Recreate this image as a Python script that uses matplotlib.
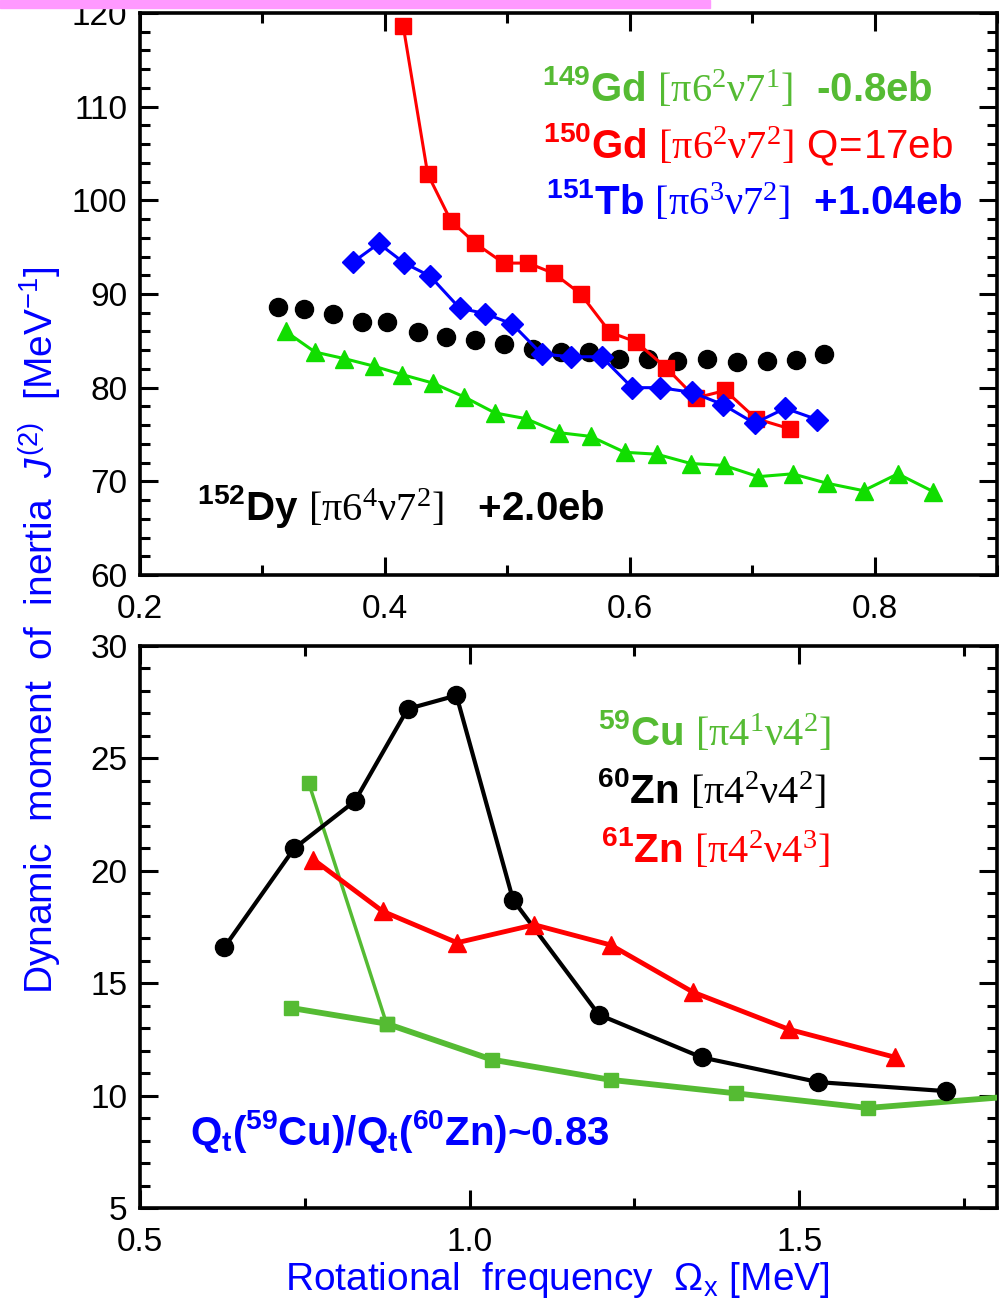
import numpy as np
import matplotlib
matplotlib.use('Agg')
import matplotlib.pyplot as plt
from matplotlib.patches import Rectangle
from matplotlib.ticker import MultipleLocator, FormatStrFormatter

plt.rcParams['font.family'] = ['Liberation Sans', 'DejaVu Sans']
plt.rcParams['mathtext.fontset'] = 'custom'
plt.rcParams['mathtext.rm'] = 'Liberation Serif'
plt.rcParams['mathtext.it'] = 'Liberation Sans:italic'
plt.rcParams['mathtext.bf'] = 'Liberation Sans:bold'
plt.rcParams['mathtext.sf'] = 'Liberation Sans'

# --- upper panel: A~150 superdeformed bands
gd150_x = [0.415, 0.435, 0.454, 0.474, 0.497, 0.517, 0.538, 0.560, 0.584, 0.605,
           0.630, 0.654, 0.678, 0.703, 0.731]
gd150_y = [118.6, 102.8, 97.8, 95.4, 93.3, 93.3, 92.2, 90.0, 85.9, 84.9,
           82.1, 78.9, 79.7, 76.7, 75.6]

tb151_x = [0.374, 0.395, 0.416, 0.437, 0.461, 0.482, 0.504, 0.528, 0.552, 0.577,
           0.602, 0.625, 0.651, 0.676, 0.702, 0.727, 0.753]
tb151_y = [93.4, 95.4, 93.3, 91.9, 88.5, 87.9, 86.8, 83.6, 83.3, 83.3,
           80.0, 80.0, 79.5, 78.2, 76.2, 77.8, 76.6]

dy152_x = [0.313, 0.334, 0.358, 0.381, 0.402, 0.427, 0.450, 0.474, 0.497, 0.521,
           0.544, 0.567, 0.591, 0.615, 0.639, 0.663, 0.688, 0.712, 0.736, 0.759]
dy152_y = [88.6, 88.4, 87.9, 87.0, 87.0, 85.9, 85.4, 85.1, 84.7, 84.1,
           83.8, 83.8, 83.1, 83.1, 82.9, 83.1, 82.7, 82.9, 83.0, 83.6]

gd149_x = [0.319, 0.343, 0.367, 0.391, 0.414, 0.439, 0.465, 0.490, 0.515, 0.542,
           0.568, 0.596, 0.622, 0.650, 0.677, 0.705, 0.733, 0.761, 0.791, 0.819, 0.848]
gd149_y = [86.0, 83.8, 83.1, 82.3, 81.4, 80.5, 79.0, 77.3, 76.7, 75.2,
           74.8, 73.1, 72.9, 71.9, 71.7, 70.5, 70.8, 69.8, 69.0, 70.8, 68.9]

# --- lower panel: A~60 bands
zn60_x = [0.628, 0.734, 0.826, 0.906, 0.980, 1.066, 1.196, 1.352, 1.529, 1.722]
zn60_y = [16.6, 21.0, 23.1, 27.2, 27.8, 18.7, 13.6, 11.7, 10.6, 10.2]

zn61_x = [0.763, 0.868, 0.981, 1.098, 1.214, 1.339, 1.484, 1.646]
zn61_y = [20.5, 18.2, 16.8, 17.6, 16.7, 14.6, 12.95, 11.7]

cu59a_x = [0.756, 0.874]
cu59a_y = [23.9, 13.2]
cu59b_x = [0.729, 0.874, 1.034, 1.214, 1.404, 1.604, 1.86]
cu59b_y = [13.9, 13.2, 11.6, 10.7, 10.1, 9.45, 10.05]

green_txt = '#55BB33'
green_top = '#11DD00'

fig = plt.figure(figsize=(10.04, 13.04), dpi=100)
ax1 = fig.add_axes([140/1004, 1-575/1304, 857/1004, 562/1304])
ax2 = fig.add_axes([140/1004, 1-1208/1304, 857/1004, 562/1304])

ax1.plot(gd149_x, gd149_y, '-^', color=green_top, lw=2.2, ms=12.5, zorder=3)
ax1.plot(dy152_x, dy152_y, 'o', color='black', ms=13, zorder=3)
ax1.plot(gd150_x, gd150_y, '-s', color='red', lw=2.2, ms=11, zorder=4)
ax1.plot(tb151_x, tb151_y, '-D', color='blue', lw=2.2, ms=11, zorder=5)

ax2.plot(cu59b_x, cu59b_y, '-s', color=green_txt, lw=4.2, ms=10, zorder=3)
ax2.plot(cu59a_x, cu59a_y, '-s', color=green_txt, lw=2.5, ms=10, zorder=3)
ax2.plot(zn60_x, zn60_y, '-o', color='black', lw=3, ms=13, zorder=4)
ax2.plot(zn61_x, zn61_y, '-^', color='red', lw=3.5, ms=13.5, zorder=4)

ax1.set_xlim(0.2, 0.9)
ax1.set_ylim(60, 120)
ax1.xaxis.set_major_locator(MultipleLocator(0.2))
ax1.xaxis.set_minor_locator(MultipleLocator(0.1))
ax1.yaxis.set_major_locator(MultipleLocator(10))
ax1.yaxis.set_minor_locator(MultipleLocator(2))
ax1.xaxis.set_major_formatter(FormatStrFormatter('%.1f'))

ax2.set_xlim(0.5, 1.8)
ax2.set_ylim(5, 30)
ax2.xaxis.set_major_locator(MultipleLocator(0.5))
ax2.xaxis.set_minor_locator(MultipleLocator(0.25))
ax2.yaxis.set_major_locator(MultipleLocator(5))
ax2.yaxis.set_minor_locator(MultipleLocator(1))
ax2.xaxis.set_major_formatter(FormatStrFormatter('%.1f'))

for ax in (ax1, ax2):
    for sp in ax.spines.values():
        sp.set_linewidth(2.6)
    ax.tick_params(which='both', direction='in', top=True, right=True,
                   width=2.2, labelsize=24)
    ax.tick_params(which='major', length=13)
    ax.tick_params(which='minor', length=7)
    ax.tick_params(axis='x', which='major', pad=14)
    ax.tick_params(axis='y', which='major', pad=9)

# labels inside upper panel
fs = 29
ax1.text(0.469, 0.843, r'${}^{\mathbf{149}}$Gd $\mathrm{[\pi6^{2}\nu7^{1}]}$  -0.8eb',
         transform=ax1.transAxes, color=green_txt, fontsize=fs, fontweight='bold')
ax1.text(0.470, 0.742, r'${}^{\mathbf{150}}$Gd $\mathrm{[\pi6^{2}\nu7^{2}]}\ \mathsf{Q\!=\!17eb}$',
         transform=ax1.transAxes, color='red', fontsize=fs, fontweight='bold')
ax1.text(0.474, 0.642, r'${}^{\mathbf{151}}$Tb $\mathrm{[\pi6^{3}\nu7^{2}]}$  +1.04eb',
         transform=ax1.transAxes, color='blue', fontsize=fs, fontweight='bold')
ax1.text(0.066, 0.098, r'${}^{\mathbf{152}}$Dy $\mathrm{[\pi6^{4}\nu7^{2}]}$   +2.0eb',
         transform=ax1.transAxes, color='black', fontsize=fs, fontweight='bold')

# labels inside lower panel
ax2.text(0.534, 0.824, r'${}^{\mathbf{59}}$Cu $\mathrm{[\pi4^{1}\nu4^{2}]}$',
         transform=ax2.transAxes, color=green_txt, fontsize=fs, fontweight='bold')
ax2.text(0.533, 0.721, r'${}^{\mathbf{60}}$Zn $\mathrm{[\pi4^{2}\nu4^{2}]}$',
         transform=ax2.transAxes, color='black', fontsize=fs, fontweight='bold')
ax2.text(0.538, 0.616, r'${}^{\mathbf{61}}$Zn $\mathrm{[\pi4^{2}\nu4^{3}]}$',
         transform=ax2.transAxes, color='red', fontsize=fs, fontweight='bold')
ax2.text(0.058, 0.112,
         r'Q$_{\mathbf{t}}$(${}^{\mathbf{59}}$Cu)/Q$_{\mathbf{t}}$(${}^{\mathbf{60}}$Zn)~0.83',
         transform=ax2.transAxes, color='blue', fontsize=fs, fontweight='bold')

fig.text(0.040, 0.517,
         r'Dynamic  moment  of  inertia  $J^{\mathsf{(2)}}$  [MeV$^{\mathsf{-1}}$]',
         rotation=90, ha='center', va='center', color='blue', fontsize=28)
fig.text(557/1004, 1-1280/1304,
         r'Rotational  frequency  $\mathsf{\Omega}_{\mathsf{x}}$ [MeV]',
         ha='center', va='center', color='blue', fontsize=28)

fig.patches.append(Rectangle((0, 1-8/1304), 710/1004, 8/1304,
                             transform=fig.transFigure, color='#FF99FF', zorder=10))

fig.savefig('out.png', dpi=100)
